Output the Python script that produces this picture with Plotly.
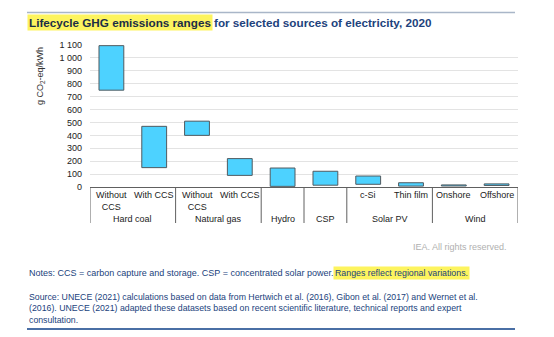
import plotly.graph_objects as go

# Technology groups and sub-technologies (one entry per bar)
groups = ["Hard coal", "Hard coal", "Natural gas", "Natural gas", "Hydro", "CSP",
          "Solar PV", "Solar PV", "Wind", "Wind"]
subs = ["Without<br>CCS", "With CCS", "Without<br>CCS", "With CCS", "", "",
        "c-Si", "Thin film", "Onshore", "Offshore"]
# Emission range per technology, g CO2-eq/kWh
low = [750, 150, 400, 90, 5, 14, 21, 7, 8, 12]
high = [1095, 470, 510, 220, 147, 122, 85, 33, 16, 24]

y_ticks = list(range(0, 1101, 100))
y_tick_text = [f"{v:,}".replace(",", " ") for v in y_ticks]

FONT = "Arial, Liberation Sans, sans-serif"
W, H = 554, 337
L, R, T, B = 90, 36, 45, 150  # plot area: x 90..518, y 45..187
PW, PH = W - L - R, H - T - B


def px_x(px):
    return (px - L) / PW


def px_y(py):
    return (H - B - py) / PH


idx = list(range(len(groups)))
fig = go.Figure()
fig.add_trace(go.Bar(
    x=idx,
    y=[h - l for l, h in zip(low, high)],
    base=low,
    width=0.58,
    marker=dict(color="#4dd2ff", line=dict(color="#505a60", width=1)),
    hoverinfo="skip",
))

annotations = []
shapes = []

# Sub-technology labels
for i, s in enumerate(subs):
    if s:
        annotations.append(dict(x=i, y=px_y(188), xref="x", yref="paper", text=s,
                                showarrow=False, yanchor="top", xanchor="center",
                                font=dict(size=9, color="#222", family=FONT)))

# Group labels and dividers
bounds = [-0.5]
start = 0
for i in range(1, len(groups) + 1):
    if i == len(groups) or groups[i] != groups[start]:
        annotations.append(dict(x=(start + i - 1) / 2, y=px_y(219), xref="x", yref="paper",
                                text=groups[start], showarrow=False, yanchor="middle",
                                font=dict(size=9, color="#222", family=FONT)))
        bounds.append(i - 0.5)
        start = i
for b in bounds:
    shapes.append(dict(type="line", xref="x", yref="paper", x0=b, x1=b,
                       y0=0, y1=px_y(223), line=dict(color="#606060", width=1)))

# Title (highlighted part + remainder)
annotations.append(dict(x=px_x(27), y=px_y(22), xref="paper", yref="paper",
                        text="<b>Lifecycle GHG emissions ranges</b>", showarrow=False,
                        xanchor="left", yanchor="middle", bgcolor="#fdf45e", borderpad=1,
                        font=dict(size=11.7, color="#1c2e45", family=FONT)))
annotations.append(dict(x=px_x(212), y=px_y(22), xref="paper", yref="paper",
                        text="<b>for selected sources of electricity, 2020</b>", showarrow=False,
                        xanchor="left", yanchor="middle",
                        font=dict(size=11.7, color="#21427c", family=FONT)))

# Axis title
annotations.append(dict(x=px_x(40), y=px_y(76), xref="paper", yref="paper",
                        text="g CO<sub>2</sub>-eq/kWh", showarrow=False, textangle=-90,
                        xanchor="center", yanchor="middle",
                        font=dict(size=9, color="#333", family=FONT)))

# Credit
annotations.append(dict(x=px_x(509), y=px_y(247), xref="paper", yref="paper",
                        text="IEA. All rights reserved.", showarrow=False,
                        xanchor="right", yanchor="middle",
                        font=dict(size=9, color="#b0b0b0", family=FONT)))

# Notes
annotations.append(dict(x=px_x(27), y=px_y(273), xref="paper", yref="paper",
                        text="Notes: CCS = carbon capture and storage. CSP = concentrated solar power.",
                        showarrow=False, xanchor="left", yanchor="middle",
                        font=dict(size=9, color="#21427c", family=FONT)))
annotations.append(dict(x=px_x(333), y=px_y(273), xref="paper", yref="paper",
                        text="Ranges reflect regional variations.", showarrow=False,
                        xanchor="left", yanchor="middle", bgcolor="#fdf45e", borderpad=1,
                        font=dict(size=8.8, color="#21427c", family=FONT)))

# Source
annotations.append(dict(x=px_x(27), y=px_y(308.5), xref="paper", yref="paper",
                        text=("Source: UNECE (2021) calculations based on data from Hertwich et al. (2016), "
                              "Gibon et al. (2017) and Wernet et al.<br>(2016). UNECE (2021) adapted these "
                              "datasets based on recent scientific literature, technical reports and expert"
                              "<br>consultation."),
                        showarrow=False, xanchor="left", yanchor="middle", align="left",
                        font=dict(size=8.75, color="#21427c", family=FONT)))

# Frame rules above and below
shapes.append(dict(type="line", xref="paper", yref="paper", x0=px_x(27), x1=px_x(515),
                   y0=px_y(12.5), y1=px_y(12.5), line=dict(color="#a9b6c8", width=1.5)))
shapes.append(dict(type="line", xref="paper", yref="paper", x0=px_x(27), x1=px_x(515),
                   y0=px_y(329), y1=px_y(329), line=dict(color="#4a6fa5", width=2)))

fig.update_layout(
    width=W, height=H,
    margin=dict(l=L, r=R, t=T, b=B, pad=0),
    paper_bgcolor="white", plot_bgcolor="white",
    showlegend=False,
    font=dict(family=FONT, size=9, color="#333"),
    xaxis=dict(range=[-0.5, len(groups) - 0.5], showticklabels=False, showgrid=False,
               zeroline=False, showline=True, linecolor="#606060", linewidth=1, ticks=""),
    yaxis=dict(range=[0, 1100], tickvals=y_ticks, ticktext=y_tick_text,
               showgrid=True, gridcolor="#e3e3e3", gridwidth=1.2, zeroline=False,
               showline=False, ticks="", ticklabelstandoff=7,
               tickfont=dict(size=9, color="#222", family=FONT)),
    annotations=annotations,
    shapes=shapes,
)

fig.write_html("out.html")
